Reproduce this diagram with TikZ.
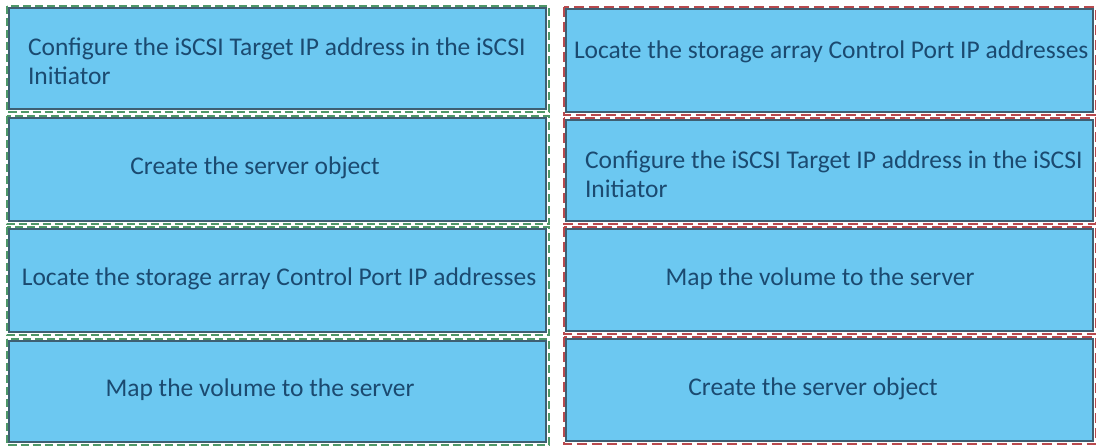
\documentclass[tikz,border=0pt]{standalone}
\usepackage{fontspec}
\setmainfont{Carlito}
\usetikzlibrary{positioning}

\definecolor{boxfill}{HTML}{6CC8F1}
\definecolor{boxline}{HTML}{3E5F72}
\definecolor{txtblue}{HTML}{1B4A70}
\definecolor{dashgreen}{HTML}{4F9868}
\definecolor{dashred}{HTML}{B84A4E}

\begin{document}
\begin{tikzpicture}[
  x=1pt, y=-1pt,
  every node/.style={inner sep=0pt, outer sep=0pt, font=\fontsize{25.5}{28.5}\selectfont, text=txtblue},
  stepbox/.style={draw=boxline, line width=1.2pt, fill=boxfill, rectangle},
  txt/.style={align=left, anchor=west},
  gdash/.style={draw=dashgreen, line width=2pt, dash pattern=on 8pt off 4pt},
  rdash/.style={draw=dashred, line width=2pt, dash pattern=on 10pt off 5pt}
]
\useasboundingbox (0,0) rectangle (1096,447);

% --- Left column (green dashes) ---
\node[stepbox, minimum width=537, minimum height=101] (l1) at (277.5,58.5) {};
\node[stepbox, minimum width=537, minimum height=103] (l2) at (277.5,169.5) {};
\node[stepbox, minimum width=537, minimum height=103] (l3) at (277.5,280.5) {};
\node[stepbox, minimum width=537, minimum height=101] (l4) at (277.5,391.5) {};

% --- Right column (red dashes) ---
\node[stepbox, minimum width=527, minimum height=103] (r1) at (829.5,60.5) {};
\node[stepbox, minimum width=527, minimum height=101] (r2) at (829.5,170.5) {};
\node[stepbox, minimum width=527, minimum height=102] (r3) at (829.5,280) {};
\node[stepbox, minimum width=527, minimum height=102] (r4) at (829.5,390) {};

% --- Dashed outlines ---
\foreach \n in {l1,l2,l3,l4}
  \draw[gdash] ([shift={(-2.5,-2.5)}]\n.north west) rectangle ([shift={(2.5,2.5)}]\n.south east);
\foreach \n in {r1,r2,r3,r4}
  \draw[rdash] ([shift={(-2.5,-2.5)}]\n.north west) rectangle ([shift={(2.5,2.5)}]\n.south east);

% --- Texts ---
\node[txt] (tl1) at (28,61) {Configure the iSCSI Target IP address in the iSCSI\\Initiator};
\node (tl2) at (255,168) {Create the server object};
\node (tl3) at (279,279) {Locate the storage array Control Port IP addresses};
\node (tl4) at (260,390) {Map the volume to the server};

\node[txt] (tr1) at (574,52) {Locate the storage array Control Port IP addresses};
\node[txt] (tr2) at (585,174) {Configure the iSCSI Target IP address in the iSCSI\\Initiator};
\node (tr3) at (820,279) {Map the volume to the server};
\node (tr4) at (813,389) {Create the server object};

\end{tikzpicture}
\end{document}
